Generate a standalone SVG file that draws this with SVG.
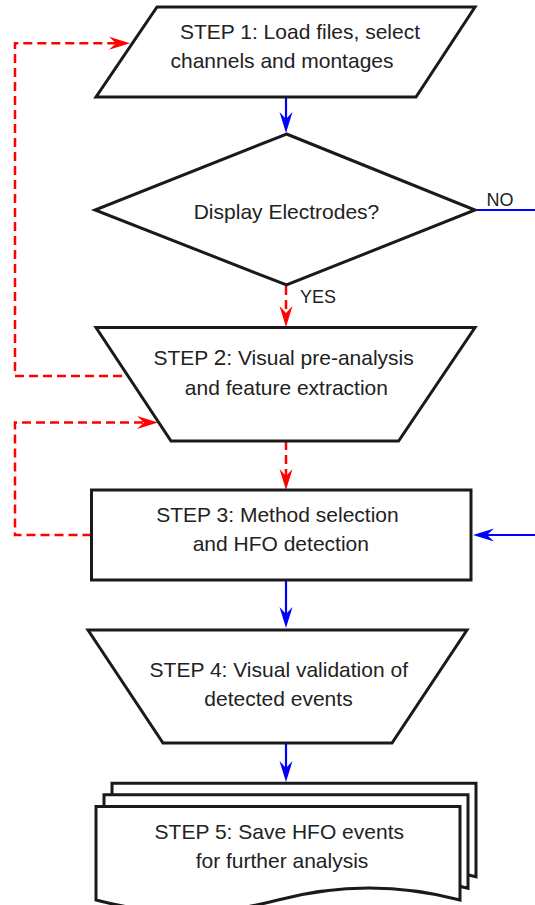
<svg xmlns="http://www.w3.org/2000/svg" width="535" height="905" viewBox="0 0 535 905">
  <style>
    .shape { fill: #ffffff; stroke: #1a1a1a; stroke-width: 3; stroke-linejoin: miter; }
    .label { font-family: "Liberation Sans", Arial, sans-serif; font-size: 21px; fill: #222222; text-anchor: middle; }
    .small { font-family: "Liberation Sans", Arial, sans-serif; font-size: 18px; fill: #222222; }
    .flow { fill: none; stroke: #0000ff; stroke-width: 2.2; }
    .loop { fill: none; stroke: #ff0000; stroke-width: 2.5; stroke-dasharray: 9 5; }
  </style>
  <defs>
    <marker id="head-blue" markerUnits="userSpaceOnUse" markerWidth="21" markerHeight="13" refX="13" refY="6.5" orient="auto" overflow="visible">
      <path d="M0,0 L21,6.5 L0,13 L7,6.5 Z" fill="#0000ff"/>
    </marker>
    <marker id="head-red" markerUnits="userSpaceOnUse" markerWidth="21" markerHeight="13" refX="13" refY="6.5" orient="auto" overflow="visible">
      <path d="M0,0 L21,6.5 L0,13 L7,6.5 Z" fill="#ff0000"/>
    </marker>
  </defs>

  <rect x="0" y="0" width="535" height="905" fill="#ffffff"/>

  <!-- connectors -->
  <g id="connectors">
    <path class="flow" d="M286,97 V125" marker-end="url(#head-blue)"/>
    <path class="flow" d="M475,210 H535"/>
    <path class="loop" d="M286,286 V319" marker-end="url(#head-red)"/>
    <path class="loop" d="M122,376 H15 V43.3 H122" marker-end="url(#head-red)"/>
    <path class="loop" d="M91.5,535 H15 V422.5 H150" marker-end="url(#head-red)"/>
    <path class="loop" d="M286,441 V482" marker-end="url(#head-red)"/>
    <path class="flow" d="M535,535 H481" marker-end="url(#head-blue)"/>
    <path class="flow" d="M286,580 V620" marker-end="url(#head-blue)"/>
    <path class="flow" d="M286,743 V774" marker-end="url(#head-blue)"/>
    <text class="small" x="486.5" y="205.5">NO</text>
    <text class="small" x="300" y="303.3">YES</text>
  </g>

  <!-- step 1: input parallelogram -->
  <g id="step1">
    <polygon class="shape" points="157,7 475,7 416,97 96,97"/>
    <text class="label" x="300" y="39.3">STEP 1: Load files, select</text>
    <text class="label" x="282" y="67.7">channels and montages</text>
  </g>

  <!-- decision -->
  <g id="decision">
    <polygon class="shape" points="286.5,134 475,210 286.5,285 95,210"/>
    <text class="label" x="286.5" y="219.3">Display Electrodes?</text>
  </g>

  <!-- step 2: manual operation -->
  <g id="step2">
    <polygon class="shape" points="96,327.5 475,327.5 398.6,441 171,441"/>
    <text class="label" x="283.6" y="365">STEP <tspan font-size="22.5px">2</tspan>: Visual pre-analysis</text>
    <text class="label" x="286.4" y="395">and feature extraction</text>
  </g>

  <!-- step 3: process -->
  <g id="step3">
    <rect class="shape" x="91.5" y="490" width="379.5" height="90"/>
    <text class="label" x="277.5" y="522.3">STEP 3: Method selection</text>
    <text class="label" x="280.8" y="551">and HFO detection</text>
  </g>

  <!-- step 4: manual operation -->
  <g id="step4">
    <polygon class="shape" points="88,630 467,630 392,743 163,743"/>
    <text class="label" x="278.8" y="676.7">STEP 4: Visual validation of</text>
    <text class="label" x="278.5" y="705.6">detected events</text>
  </g>

  <!-- step 5: multiple documents -->
  <g id="step5">
    <path class="shape" d="M112,783.2 H476 V876.7 Q385,852.7 294,876.7 Q203,900.7 112,876.7 Z"/>
    <path class="shape" d="M104,794.8 H468 V888.3 Q377,864.3 286,888.3 Q195,912.3 104,888.3 Z"/>
    <path class="shape" d="M96,806.5 H460 V900 Q369,876 278,900 Q187,924 96,900 Z"/>
    <text class="label" x="279.3" y="839">STEP 5: Save HFO events</text>
    <text class="label" x="282" y="868">for further analysis</text>
  </g>
</svg>
